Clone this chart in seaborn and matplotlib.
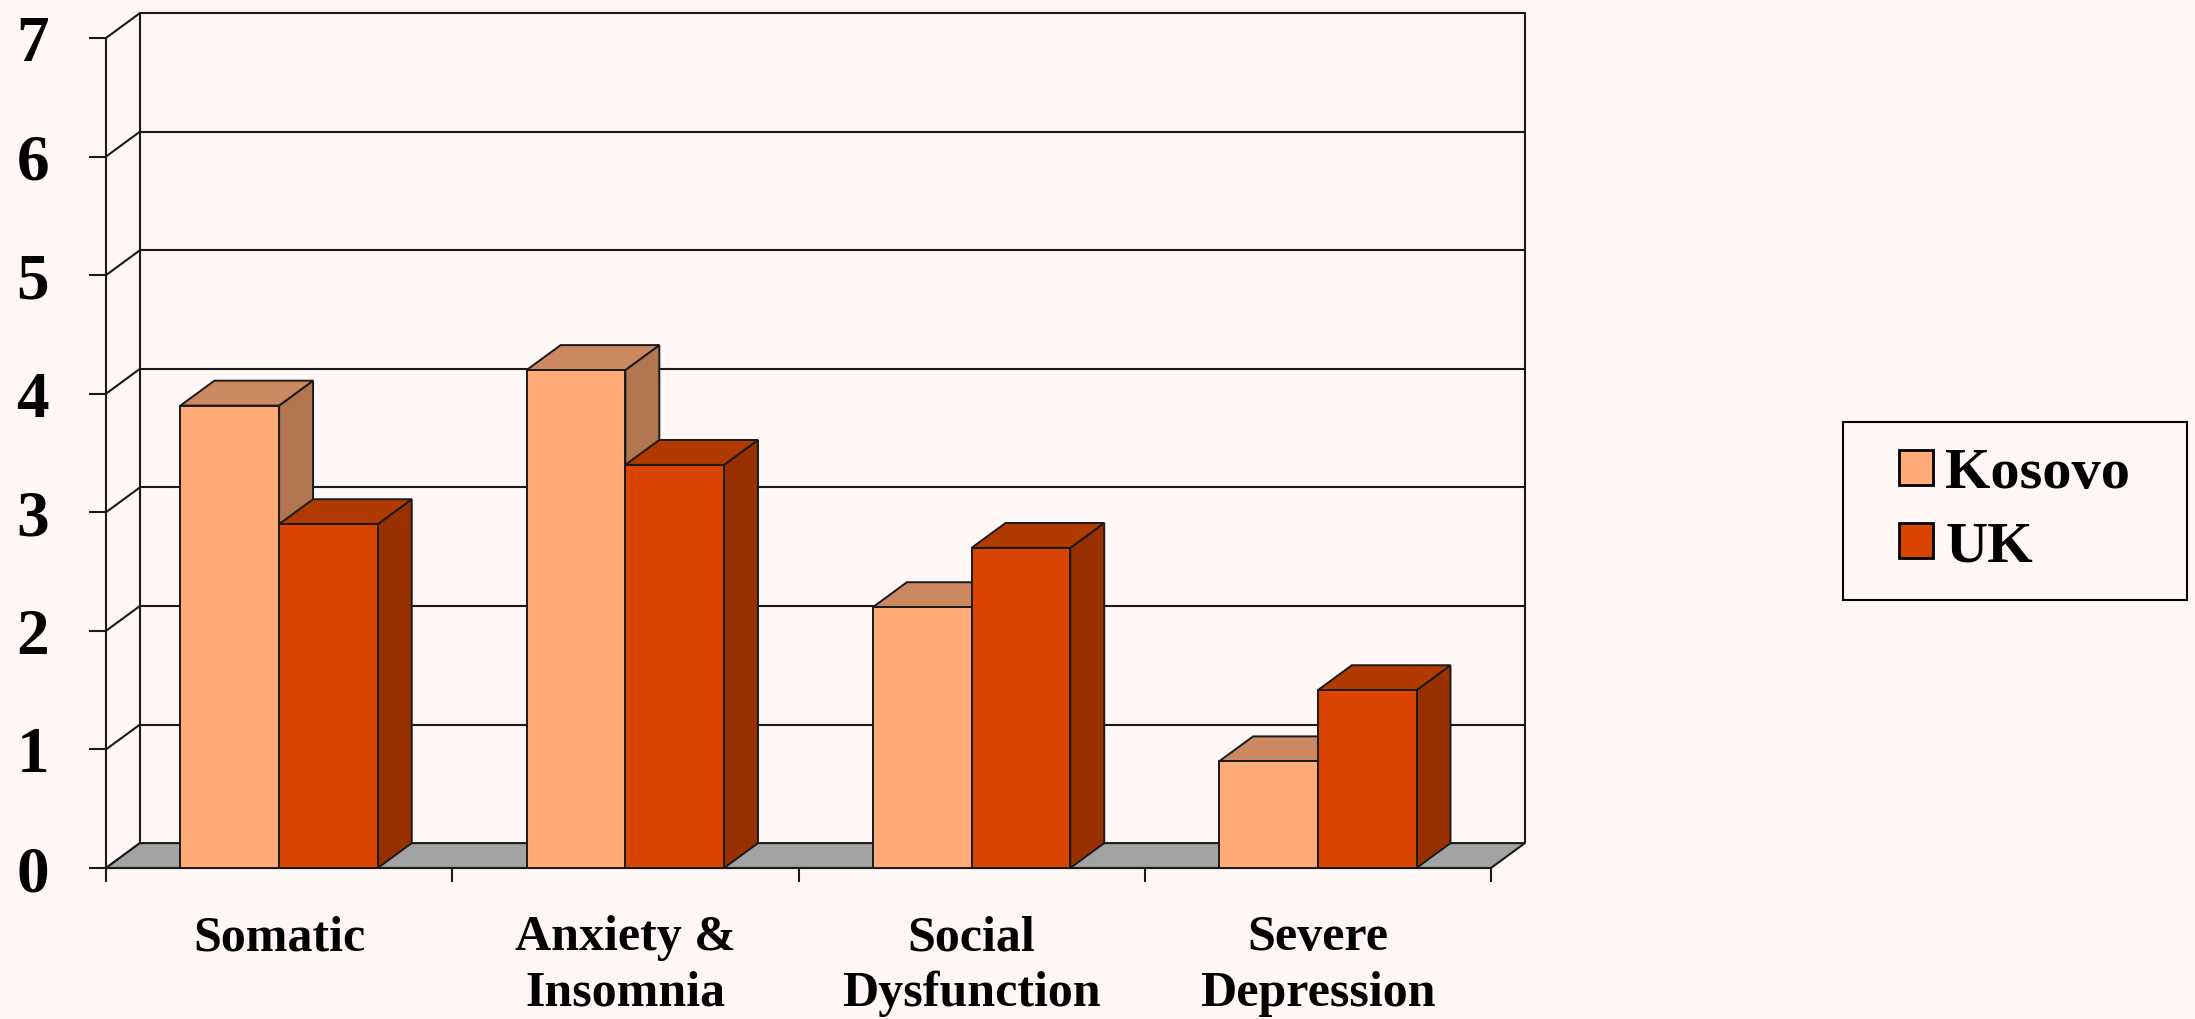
import matplotlib
matplotlib.use("Agg")
import matplotlib.pyplot as plt
import matplotlib.patches as mpatches
from matplotlib.legend_handler import HandlerPatch
import pandas as pd
import seaborn as sns

# data
categories = ["Somatic", "Anxiety &\nInsomnia", "Social\nDysfunction", "Severe\nDepression"]
series = ["Kosovo", "UK"]
kosovo = [3.9, 4.2, 2.2, 0.9]
uk = [2.9, 3.4, 2.7, 1.5]
y_ticks = [0, 1, 2, 3, 4, 5, 6, 7]

BG = "#FFF6F6"
front_colors = {"Kosovo": "#FFAA77", "UK": "#D94500"}
top_colors = {"Kosovo": "#CC8860", "UK": "#B03A00"}
side_colors = {"Kosovo": "#B07650", "UK": "#993000"}
LINE = "#1a1a1a"

# depth offset of the fake 3d look, in data units
DX, DY = 0.098, 0.21

df = pd.DataFrame({
    "category": categories * 2,
    "value": kosovo + uk,
    "country": [series[0]] * len(kosovo) + [series[1]] * len(uk),
})

sns.set_style("white")
plt.rcParams["font.family"] = ["Liberation Serif", "DejaVu Serif"]
plt.rcParams["font.weight"] = "bold"
plt.rcParams["text.color"] = "black"

W, H = 2195, 1019
fig = plt.figure(figsize=(W / 100, H / 100), dpi=100, facecolor=BG)
ax = fig.add_axes([106 / W, 151 / H, 1385 / W, 830 / H])
ax.set_facecolor(BG)

sns.barplot(data=df, x="category", y="value", hue="country", palette=front_colors,
            width=0.57, saturation=1, edgecolor=LINE, linewidth=1.4, legend=False, ax=ax)

x_lo, x_hi = -0.5, len(categories) - 0.5
ax.set_xlim(x_lo, x_hi)
ax.set_ylim(y_ticks[0], y_ticks[-1])

# top and side faces for each bar, drawn left to right
bars = []
for level, cont in zip(series, ax.containers):
    for p in cont:
        bars.append((p.get_x(), p, level))
bars.sort(key=lambda b: b[0])
for i, (x0, p, level) in enumerate(bars):
    w, h = p.get_width(), p.get_height()
    z = 4 + 3 * i
    side = mpatches.Polygon([(x0 + w, 0), (x0 + w + DX, DY), (x0 + w + DX, h + DY), (x0 + w, h)],
                            closed=True, fc=side_colors[level], ec=LINE, lw=1.4, zorder=z, clip_on=False)
    top = mpatches.Polygon([(x0, h), (x0 + w, h), (x0 + w + DX, h + DY), (x0 + DX, h + DY)],
                           closed=True, fc=top_colors[level], ec=LINE, lw=1.4, zorder=z + 0.5, clip_on=False)
    ax.add_patch(side)
    ax.add_patch(top)
    p.set_zorder(z + 1)
    p.set_clip_on(False)

# floor
floor = mpatches.Polygon([(x_lo, 0), (x_hi, 0), (x_hi + DX, DY), (x_lo + DX, DY)], closed=True,
                         fc="#A3A3A3", ec=LINE, lw=1.5, zorder=2, clip_on=False)
ax.add_patch(floor)

# walls and gridlines
for t in y_ticks:
    ax.plot([x_lo, x_lo + DX], [t, t + DY], color=LINE, lw=1.5, zorder=1, clip_on=False)
    if t > 0:
        ax.plot([x_lo + DX, x_hi + DX], [t + DY, t + DY], color=LINE, lw=1.5, zorder=1, clip_on=False)
ax.plot([x_lo + DX, x_lo + DX], [DY, y_ticks[-1] + DY], color=LINE, lw=1.5, zorder=1, clip_on=False)
ax.plot([x_hi + DX, x_hi + DX], [DY, y_ticks[-1] + DY], color=LINE, lw=1.5, zorder=1, clip_on=False)

for s in ["top", "right"]:
    ax.spines[s].set_visible(False)
for s in ["left", "bottom"]:
    ax.spines[s].set_color(LINE)
    ax.spines[s].set_linewidth(1.5)

ax.set_yticks(y_ticks)
ax.set_yticklabels([str(t) for t in y_ticks], fontsize=47, fontweight="bold")
ax.tick_params(axis="y", left=True, length=12, width=1.5, color=LINE, pad=29, labelcolor="black")

ax.set_xticks(range(len(categories)))
ax.set_xticklabels(categories, fontsize=36, fontweight="bold")
ax.set_xticks([i - 0.5 for i in range(len(categories) + 1)], minor=True)
ax.tick_params(axis="x", which="major", bottom=True, length=0, pad=34, labelcolor="black")
ax.tick_params(axis="x", which="minor", bottom=True, length=10, width=1.5, color=LINE)
for lab in ax.get_xticklabels():
    lab.set_linespacing(1.27)
ax.set_xlabel("")
ax.set_ylabel("")


def right_square(legend, orig_handle, xdescent, ydescent, width, height, fontsize):
    return mpatches.Rectangle((width - height - xdescent, -ydescent), height, height)


handles = [mpatches.Patch(facecolor=front_colors[s], edgecolor="black", linewidth=2) for s in series]
leg = fig.legend(handles, series, loc="upper left",
                 bbox_to_anchor=(1843 / W, 1 - 601 / H, 344 / W, 179 / H),
                 mode="expand", borderaxespad=0, borderpad=0.45,
                 prop={"family": ["Liberation Serif", "DejaVu Serif"], "weight": "bold", "size": 42},
                 handlelength=1.1, handleheight=0.53, handletextpad=0.2, labelspacing=0.36,
                 frameon=True, fancybox=False, edgecolor="black", facecolor=BG, framealpha=1,
                 labelcolor="black",
                 handler_map={mpatches.Patch: HandlerPatch(patch_func=right_square)})
leg.get_frame().set_linewidth(1.5)

fig.savefig("out.png", dpi=100, facecolor=BG)
